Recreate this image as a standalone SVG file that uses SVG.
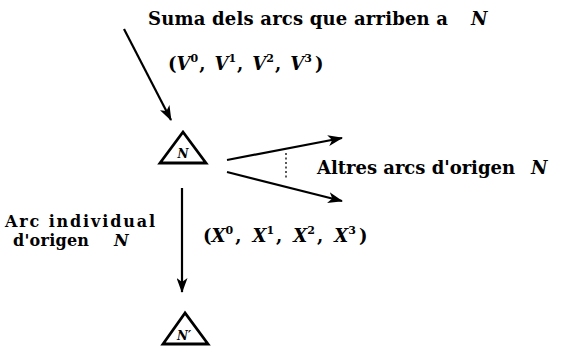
<svg xmlns="http://www.w3.org/2000/svg" width="567" height="352" viewBox="0 0 567 352">
<style>
.t{font-family:"DejaVu Serif","Liberation Serif",serif;font-weight:bold;font-size:18px;fill:#000}
.s{font-size:16px}
.i{font-style:italic}
.sup{font-size:11px;font-style:normal}
.n{font-family:"DejaVu Serif","Liberation Serif",serif;font-weight:bold;font-style:italic;font-size:12px;fill:#000}
.ln{stroke:#000;stroke-width:2.2;fill:none}
.tri{stroke:#000;stroke-width:2.8;fill:#fff;stroke-linejoin:miter}
</style>
<defs>
<marker id="ah" viewBox="0 0 15 11" refX="14" refY="5.5" markerWidth="15" markerHeight="11" markerUnits="userSpaceOnUse" orient="auto">
<path d="M0,0 L15,5.5 L0,11 L4,5.5 Z" fill="#000"/>
</marker>
</defs>
<g id="labels">
<text class="t" x="148" y="25" textLength="300" lengthAdjust="spacing">Suma dels arcs que arriben a</text>
<text class="t i" x="471" y="25">N</text>
<text class="t" x="168" y="70"><tspan>(</tspan><tspan class="i">V</tspan><tspan class="sup" dy="-8">0</tspan><tspan dy="8" dx="1">,</tspan><tspan class="i" dx="9">V</tspan><tspan class="sup" dy="-8">1</tspan><tspan dy="8" dx="1">,</tspan><tspan class="i" dx="9">V</tspan><tspan class="sup" dy="-8">2</tspan><tspan dy="8" dx="1">,</tspan><tspan class="i" dx="9">V</tspan><tspan class="sup" dy="-8">3</tspan><tspan dy="8" dx="3">)</tspan></text>
<text class="t" x="317" y="174" textLength="198" lengthAdjust="spacing">Altres arcs d'origen</text>
<text class="t i" x="531" y="174">N</text>
<text class="t s" x="5" y="227" textLength="150" lengthAdjust="spacing">Arc individual</text>
<text class="t s" x="13" y="246" textLength="76" lengthAdjust="spacing">d'origen</text>
<text class="t s i" x="114" y="246">N</text>
<text class="t" x="203" y="242"><tspan>(</tspan><tspan class="i">X</tspan><tspan class="sup" dy="-8">0</tspan><tspan dy="8" dx="2">,</tspan><tspan class="i" dx="11">X</tspan><tspan class="sup" dy="-8">1</tspan><tspan dy="8" dx="2">,</tspan><tspan class="i" dx="11">X</tspan><tspan class="sup" dy="-8">2</tspan><tspan dy="8" dx="2">,</tspan><tspan class="i" dx="11">X</tspan><tspan class="sup" dy="-8">3</tspan><tspan dy="8" dx="3">)</tspan></text>
</g>
<g id="node-N">
<polygon class="tri" points="183,132 160,163 206,163"/>
<text class="n" x="183" y="158" text-anchor="middle">N</text>
</g>
<g id="node-N2">
<polygon class="tri" points="185,313 163,344 208,344"/>
<text class="n" x="184" y="340" text-anchor="middle">N′</text>
</g>
<g id="connectors">
<line class="ln" x1="124" y1="29" x2="171" y2="120" marker-end="url(#ah)"/>
<line class="ln" x1="227" y1="160" x2="342" y2="138" marker-end="url(#ah)"/>
<line class="ln" x1="227" y1="172" x2="342" y2="201" marker-end="url(#ah)"/>
<line x1="286" y1="153" x2="286" y2="179" stroke="#000" stroke-width="1.3" stroke-dasharray="2,2.5"/>
<line class="ln" x1="182" y1="188" x2="182" y2="292" marker-end="url(#ah)"/>
</g>
</svg>
